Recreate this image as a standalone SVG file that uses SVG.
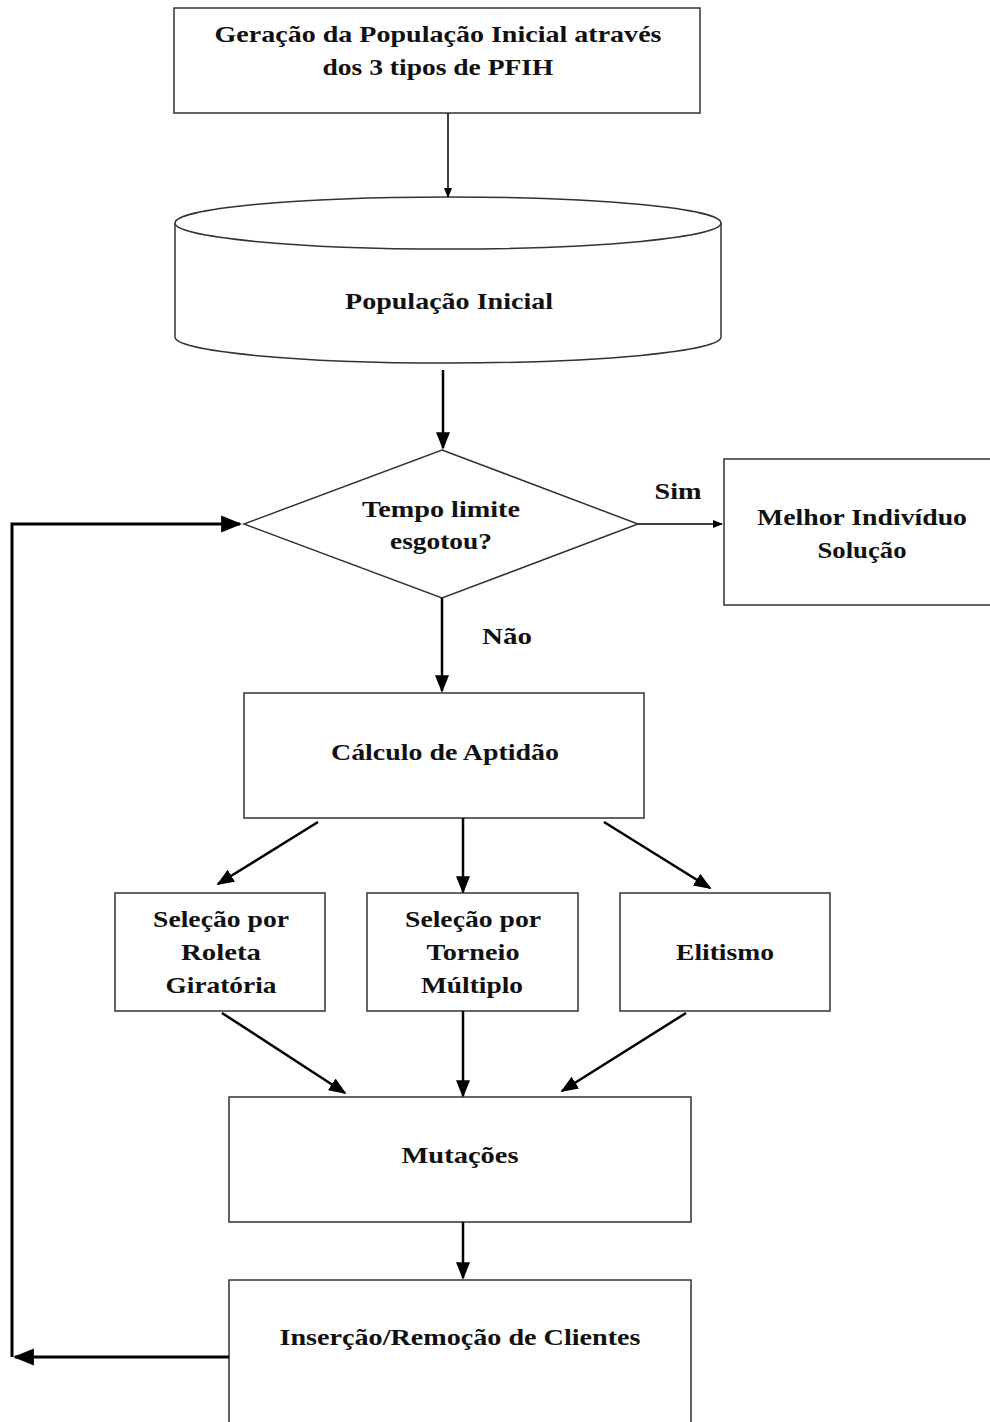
<svg xmlns="http://www.w3.org/2000/svg" width="990" height="1422" viewBox="0 0 990 1422">
<style>
.box{fill:#fff;stroke:#333;stroke-width:1.5}
.t{font-family:"Liberation Serif","Times New Roman",serif;font-weight:bold;font-size:24px;fill:#111;text-anchor:middle}
.c{stroke:#000;stroke-width:1.5;fill:none}
.c2{stroke:#000;stroke-width:2.5;fill:none}
.c3{stroke:#000;stroke-width:3;fill:none}
</style>
<defs>
<marker id="ah" viewBox="0 0 10 10" refX="9" refY="5" markerWidth="10" markerHeight="10" markerUnits="userSpaceOnUse" orient="auto">
<path d="M0,1 L10,5 L0,9 Z" fill="#000"/>
</marker>
<marker id="ah2" viewBox="0 0 10 10" refX="9" refY="5" markerWidth="7" markerHeight="7" orient="auto">
<path d="M0,1 L10,5 L0,9 Z" fill="#000"/>
</marker>
</defs>
<rect width="990" height="1422" fill="#fff"/>
<g id="geracao">
<rect class="box" x="174" y="8" width="526" height="105"/>
<text class="t" x="438" y="42" textLength="447" lengthAdjust="spacingAndGlyphs">Geração da População Inicial através</text>
<text class="t" x="438" y="75" textLength="231" lengthAdjust="spacingAndGlyphs">dos 3 tipos de PFIH</text>
</g>
<g id="populacao">
<path class="box" d="M175,223 L175,337 A273,26 0 0 0 721,337 L721,223"/>
<ellipse class="box" cx="448" cy="223" rx="273" ry="26"/>
<text class="t" x="449" y="309" textLength="208" lengthAdjust="spacingAndGlyphs">População Inicial</text>
</g>
<g id="tempo">
<polygon class="box" points="442,450 638,524 442,598 244,524"/>
<text class="t" x="441" y="517" textLength="158" lengthAdjust="spacingAndGlyphs">Tempo limite</text>
<text class="t" x="441" y="549" textLength="102" lengthAdjust="spacingAndGlyphs">esgotou?</text>
</g>
<g id="melhor">
<rect class="box" x="724" y="459" width="270" height="146"/>
<text class="t" x="862" y="525" textLength="210" lengthAdjust="spacingAndGlyphs">Melhor Indivíduo</text>
<text class="t" x="862" y="558" textLength="89" lengthAdjust="spacingAndGlyphs">Solução</text>
</g>
<g id="calculo">
<rect class="box" x="244" y="693" width="400" height="125"/>
<text class="t" x="445" y="760" textLength="228" lengthAdjust="spacingAndGlyphs">Cálculo de Aptidão</text>
</g>
<g id="roleta">
<rect class="box" x="115" y="893" width="210" height="118"/>
<text class="t" x="221" y="927" textLength="136" lengthAdjust="spacingAndGlyphs">Seleção por</text>
<text class="t" x="221" y="960" textLength="80" lengthAdjust="spacingAndGlyphs">Roleta</text>
<text class="t" x="221" y="993" textLength="111" lengthAdjust="spacingAndGlyphs">Giratória</text>
</g>
<g id="torneio">
<rect class="box" x="367" y="893" width="211" height="118"/>
<text class="t" x="473" y="927" textLength="136" lengthAdjust="spacingAndGlyphs">Seleção por</text>
<text class="t" x="473" y="960" textLength="93" lengthAdjust="spacingAndGlyphs">Torneio</text>
<text class="t" x="472" y="993" textLength="102" lengthAdjust="spacingAndGlyphs">Múltiplo</text>
</g>
<g id="elitismo">
<rect class="box" x="620" y="893" width="210" height="118"/>
<text class="t" x="725" y="960" textLength="98" lengthAdjust="spacingAndGlyphs">Elitismo</text>
</g>
<g id="mutacoes">
<rect class="box" x="229" y="1097" width="462" height="125"/>
<text class="t" x="460" y="1163" textLength="117" lengthAdjust="spacingAndGlyphs">Mutações</text>
</g>
<g id="insercao">
<rect class="box" x="229" y="1280" width="462" height="150"/>
<text class="t" x="460" y="1345" textLength="361" lengthAdjust="spacingAndGlyphs">Inserção/Remoção de Clientes</text>
</g>
<g id="labels">
<text class="t" x="678" y="499" textLength="47" lengthAdjust="spacingAndGlyphs">Sim</text>
<text class="t" x="507" y="644" textLength="50" lengthAdjust="spacingAndGlyphs">Não</text>
</g>
<g id="connectors">
<line class="c" x1="448" y1="113" x2="448" y2="197" marker-end="url(#ah)"/>
<line class="c2" x1="443" y1="370" x2="443" y2="448" marker-end="url(#ah2)"/>
<line class="c" x1="638" y1="524" x2="722" y2="524" marker-end="url(#ah)"/>
<line class="c2" x1="442" y1="598" x2="442" y2="691" marker-end="url(#ah2)"/>
<line class="c2" x1="318" y1="822" x2="218" y2="884" marker-end="url(#ah2)"/>
<line class="c2" x1="463" y1="818" x2="463" y2="892" marker-end="url(#ah2)"/>
<line class="c2" x1="604" y1="822" x2="710" y2="888" marker-end="url(#ah2)"/>
<line class="c2" x1="222" y1="1013" x2="345" y2="1093" marker-end="url(#ah2)"/>
<line class="c2" x1="463" y1="1011" x2="463" y2="1096" marker-end="url(#ah2)"/>
<line class="c2" x1="686" y1="1013" x2="562" y2="1091" marker-end="url(#ah2)"/>
<line class="c2" x1="463" y1="1222" x2="463" y2="1278" marker-end="url(#ah2)"/>
<line class="c3" x1="229" y1="1357" x2="15" y2="1357" marker-end="url(#ah2)"/>
<polyline class="c3" points="12,1357 12,524 240,524" marker-end="url(#ah2)"/>
</g>
</svg>
